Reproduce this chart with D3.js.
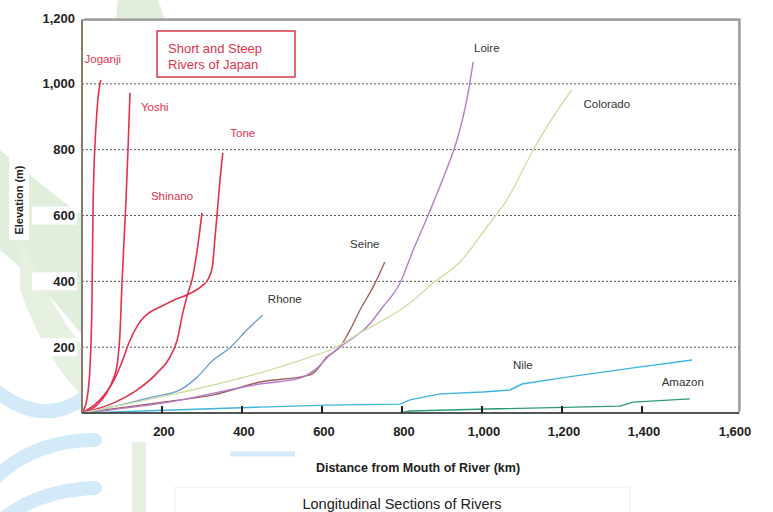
<!DOCTYPE html>
<html><head><meta charset="utf-8">
<script src="https://cdn.jsdelivr.net/npm/d3@7"></script>
<style>body{margin:0;background:#fff}svg{display:block}text{font-family:"Liberation Sans",Arial,sans-serif}</style>
</head><body><svg id="c" width="773" height="512"></svg>
<script>
// ---- data (km from mouth, elevation m) ----
const joganji = [[0,0],[12,40],[20,140],[25,345],[28,650],[37,910],[47,1012]];
const yoshi = [[0,0],[37,24],[62,61],[77,100],[87,140],[92,191],[95,243],[100,395],[110,647],[115,800],[120,973]];
const tone = [[0,0],[45,40],[78,95],[100,155],[118,215],[138,264],[150,285],[165,302],[195,322],[228,342],[270,363],[300,386],[316,408],[326,445],[332,526],[338,608],[345,708],[352,790]];
const shinano = [[0,0],[78,30],[138,70],[188,122],[220,170],[238,222],[252,304],[265,365],[275,404],[288,495],[300,608]];
const rhone = [[0,0],[95,24],[178,49],[245,70],[288,109],[328,161],[370,198],[412,252],[452,298]];
const seine = [[0,0],[202,33],[328,55],[445,94],[570,116],[582,125],[612,170],[645,201],[670,252],[695,313],[728,383],[757,459]];
const loire = [[0,0],[202,30],[445,88],[545,106],[582,131],[620,176],[645,201],[670,222],[712,261],[752,322],[795,395],[828,495],[865,600],[905,720],[940,840],[962,951],[978,1067]];
const colorado = [[0,0],[162,40],[328,85],[445,122],[570,170],[620,191],[695,243],[820,334],[878,395],[945,459],[1012,565],[1062,647],[1128,799],[1178,900],[1225,982]];
const nile = [[0,0],[445,18],[612,24],[795,27],[820,40],[895,58],[1002,64],[1070,70],[1100,88],[1212,109],[1378,137],[1525,161]];
const amazon = [[0,0],[795,1],[820,6],[1012,12],[1345,21],[1378,33],[1520,43]];

const riverNames = ["Joganji","Yoshi","Tone","Shinano","Rhone","Seine","Loire","Colorado","Nile","Amazon"];
const riverData = [joganji,yoshi,tone,shinano,rhone,seine,loire,colorado,nile,amazon];
const japanese = [true,true,true,true,false,false,false,false,false,false];
const riverColors = ["#e2324e","#e2324e","#e2324e","#e2324e","#6f9fd6","#a3605f","#b57ccc","#cfe0a6","#41b3df","#2f9b73"];
// label anchor points in data units (km, m)
const labelPos = [[52,1075],[182,930],[402,852],[225,660],[507,345],[707,515],[1012,1110],[1312,940],[1102,145],[1502,95]];

const xTicks = [200,400,600,800,1000,1200,1400,1600];
const yTicks = [200,400,600,800,1000,1200];
const legendLines = ["Short and Steep","Rivers of Japan"];
const xTitle = "Distance from Mouth of River (km)";
const yTitle = "Elevation (m)";
const caption = "Longitudinal Sections of Rivers";

// ---- drawing ----
const svg = d3.select("#c");
const x = d3.scaleLinear().domain([0,1600]).range([82,722]);
const y = d3.scaleLinear().domain([0,1200]).range([413,18]);
const L = 82, R = 739, T = 20, B = 413;

// watermark
const wm = svg.append("g");
wm.append("path").attr("d","M118,0 L158,0 C175,40 178,120 176,200 L120,200 C118,120 112,40 118,0Z").attr("fill","#e1eedb");
wm.append("path").attr("d","M0,150 C30,175 60,200 82,215 L82,335 C55,300 25,270 0,250Z").attr("fill","#e1eedb");
wm.append("path").attr("d","M20,240 C40,280 60,320 82,345 L82,395 C55,370 35,330 20,290Z").attr("fill","#e6f1e1");
wm.append("path").attr("d","M-5,390 Q42,428 84,398").attr("fill","none").attr("stroke","#d3eaf8").attr("stroke-width",14).attr("stroke-linecap","round");
wm.append("path").attr("d","M95,440 Q35,440 -5,478").attr("fill","none").attr("stroke","#d3eaf8").attr("stroke-width",14).attr("stroke-linecap","round");
wm.append("path").attr("d","M95,488 Q35,490 -5,525").attr("fill","none").attr("stroke","#d3eaf8").attr("stroke-width",14).attr("stroke-linecap","round");
wm.append("rect").attr("x",132).attr("y",442).attr("width",14).attr("height",70).attr("fill","#e6f1e1");
wm.append("line").attr("x1",230).attr("x2",295).attr("y1",454).attr("y2",454).attr("stroke","#d3eaf8").attr("stroke-width",5);

// frame with shadow
svg.append("rect").attr("x",L+2).attr("y",T-2).attr("width",R-L).attr("height",B-T).attr("fill","#bbb");
svg.append("rect").attr("x",L).attr("y",T).attr("width",R-L).attr("height",B-T).attr("fill","#fff").attr("stroke","#8f8f8f").attr("stroke-width",1.5);

// grid
svg.append("g").selectAll("line").data(yTicks.filter(d=>d<1200)).join("line")
  .attr("x1",L).attr("x2",R).attr("y1",d=>y(d)).attr("y2",d=>y(d))
  .attr("stroke","#555").attr("stroke-width",1).attr("stroke-dasharray","2,2");

// y tick labels with white boxes
const yl = svg.append("g");
yl.selectAll("rect").data(yTicks).join("rect")
  .attr("x",32).attr("y",d=>y(d)-9).attr("width",45).attr("height",18).attr("fill","#fff");
yl.selectAll("text").data(yTicks).join("text")
  .attr("x",75).attr("y",d=>y(d)).attr("dy","0.35em").attr("text-anchor","end")
  .attr("font-size",13).attr("font-weight","bold").attr("fill","#222")
  .text(d=>d3.format(",")(d));

// y title
svg.append("rect").attr("x",9).attr("y",140).attr("width",20).attr("height",100).attr("fill","#fff");
svg.append("text").attr("transform","translate(19,200) rotate(-90)").attr("text-anchor","middle")
  .attr("dy","0.35em").attr("font-size",11).attr("font-weight","bold").attr("fill","#222").text(yTitle);

// lines
const line = d3.line().x(d=>x(d[0])).y(d=>y(d[1]));
const g = svg.append("g");
riverData.forEach((data,i)=>{
  const c = (riverNames[i]==="Nile"||riverNames[i]==="Amazon") ? d3.curveLinear : d3.curveMonotoneX;
  g.append("path").datum(data).attr("d",line.curve(c))
    .attr("fill","none").attr("stroke",riverColors[i]).attr("stroke-width",japanese[i]?1.6:1.4);
});

// axes lines
svg.append("line").attr("x1",L).attr("x2",L).attr("y1",T).attr("y2",B).attr("stroke","#8a7c6c").attr("stroke-width",2);
svg.append("line").attr("x1",L).attr("x2",R).attr("y1",B).attr("y2",B).attr("stroke","#555").attr("stroke-width",2);

// x ticks
svg.append("g").selectAll("line").data(xTicks.filter(d=>d<1600)).join("line")
  .attr("x1",d=>x(d)).attr("x2",d=>x(d)).attr("y1",B).attr("y2",B-7)
  .attr("stroke","#222").attr("stroke-width",2);
svg.append("g").selectAll("text").data(xTicks).join("text")
  .attr("x",(d,i)=>x(d)+(d===1600?13:2)).attr("y",436).attr("text-anchor","middle")
  .attr("font-size",13).attr("font-weight","bold").attr("fill","#222")
  .text(d=>d3.format(",")(d));

// river labels
svg.append("g").selectAll("text").data(riverNames).join("text")
  .attr("x",(d,i)=>x(labelPos[i][0])).attr("y",(d,i)=>y(labelPos[i][1])).attr("dy","0.35em")
  .attr("text-anchor","middle").attr("font-size",11.5)
  .attr("fill",(d,i)=>japanese[i]?"#e2324e":"#333").text(d=>d);

// legend box
svg.append("rect").attr("x",157).attr("y",31).attr("width",138).attr("height",46)
  .attr("fill","#fff").attr("stroke","#d9384f").attr("stroke-width",1.5);
svg.append("g").selectAll("text").data(legendLines).join("text")
  .attr("x",168).attr("y",(d,i)=>48+i*16).attr("dy","0.35em").attr("font-size",13).attr("fill","#e2324e").text(d=>d);

// titles
svg.append("text").attr("x",418).attr("y",468).attr("dy","0.35em").attr("text-anchor","middle")
  .attr("font-size",12.5).attr("font-weight","bold").attr("fill","#222").text(xTitle);
svg.append("rect").attr("x",175).attr("y",487).attr("width",455).attr("height",30).attr("fill","#fff").attr("stroke","#eee");
svg.append("text").attr("x",402).attr("y",504).attr("dy","0.35em").attr("text-anchor","middle")
  .attr("font-size",14.5).attr("fill","#222").text(caption);
</script></body></html>
